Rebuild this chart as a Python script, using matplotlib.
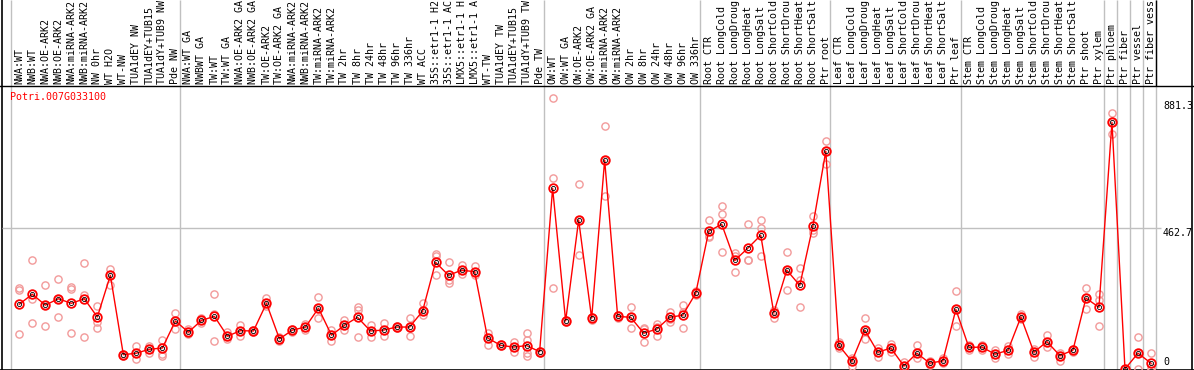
import numpy as np
import matplotlib
matplotlib.use('Agg')
import matplotlib.pyplot as plt

# sample names, as cut off in the header
labels = ['NWA:WT', 'NWB:WT', 'NWA:OE-ARK2', 'NWB:OE-ARK2', 'NWA:miRNA-ARK2', 'NWB:miRNA-ARK2',
          'NW 0hr', 'WT H2O', 'WT-NW', 'TUA1dEY NW', 'TUA1dEY+TUB15', 'TUA1dY+TUB9 NW', 'Pde NW',
          'NWA:WT GA', 'NWBWT GA', 'TW:WT', 'TW:WT GA', 'NWA:OE-ARK2 GA', 'NWB:OE-ARK2 GA',
          'TW:OE-ARK2', 'TW:OE-ARK2 GA', 'NWA:miRNA-ARK2', 'NWB:miRNA-ARK2', 'TW:miRNA-ARK2',
          'TW:miRNA-ARK2', 'TW 2hr', 'TW 8hr', 'TW 24hr', 'TW 48hr', 'TW 96hr', 'TW 336hr',
          'WT ACC', '35S::etr1-1 H2', '35S::etr1-1 AC', 'LMX5::etr1-1 H', 'LMX5::etr1-1 A',
          'WT-TW', 'TUA1dEY TW', 'TUA1dEY+TUB15', 'TUA1dY+TUB9 TW', 'Pde TW',
          'OW:WT', 'OW:WT GA', 'OW:OE-ARK2', 'OW:OE-ARK2 GA', 'OW:miRNA-ARK2', 'OW:miRNA-ARK2',
          'OW 2hr', 'OW 8hr', 'OW 24hr', 'OW 48hr', 'OW 96hr', 'OW 336hr',
          'Root CTR', 'Root LongCold', 'Root LongDroug', 'Root LongHeat', 'Root LongSalt',
          'Root ShortCold', 'Root ShortDrou', 'Root ShortHeat', 'Root ShortSalt', 'Ptr root',
          'Leaf CTR', 'Leaf LongCold', 'Leaf LongDroug', 'Leaf LongHeat', 'Leaf LongSalt',
          'Leaf ShortCold', 'Leaf ShortDrou', 'Leaf ShortHeat', 'Leaf ShortSalt', 'Ptr leaf',
          'Stem CTR', 'Stem LongCold', 'Stem LongDroug', 'Stem LongHeat', 'Stem LongSalt',
          'Stem ShortCold', 'Stem ShortDrou', 'Stem ShortHeat', 'Stem ShortSalt', 'Ptr shoot',
          'Ptr xylem', 'Ptr phloem', 'Ptr fiber', 'Ptr vessel', 'Ptr fiber vess']

group_sizes = [13, 28, 12, 10, 10, 11, 1, 1, 1, 1]

means = [213, 246, 210, 231, 216, 231, 171, 308, 47, 52, 65, 69, 158,
         121, 160, 173, 108, 126, 125, 216, 99, 128, 138, 200, 111, 144, 170, 125, 128,
         138, 138, 190, 351, 308, 325, 320, 102, 78, 72, 77, 57,
         594, 158, 490, 167, 687, 173, 170, 118, 131, 170, 177, 249,
         453, 476, 357, 397, 440, 185, 325, 275, 469, 716,
         78, 25, 128, 55, 69, 10, 52, 19, 27, 196,
         71, 72, 49, 61, 171, 55, 90, 44, 62, 233, 203,
         811, 0, 52, 19]

replicates = [(267, 260, 114), (358, 230, 151), (276, 210, 140), (296, 231, 170), (269, 262, 117),
              (349, 244, 105), (206, 154, 134), (328, 308, 275), (50, 45, 44), (76, 52, 32),
              (77, 65, 53), (95, 48, 44), (183, 158, 130),
              (133, 121, 114), (168, 160, 152), (247, 180, 91), (122, 108, 98), (145, 126, 110),
              (128, 125, 122), (232, 216, 206), (104, 99, 93), (133, 128, 123), (149, 138, 127),
              (236, 200, 167), (128, 111, 93), (161, 144, 127), (205, 194, 106), (145, 125, 106),
              (151, 128, 108), (142, 138, 134), (167, 138, 107), (216, 190, 177), (377, 370, 308),
              (351, 293, 282), (343, 325, 313), (339, 320, 308), (118, 102, 79), (82, 78, 75),
              (88, 72, 55), (118, 95, 54, 44), (60, 57, 54),
              (890, 629, 265), (162, 158, 154), (607, 490, 375), (172, 167, 160), (799, 687, 569),
              (178, 173, 168), (205, 170, 136), (134, 131, 88), (147, 139, 107), (189, 166, 155),
              (210, 186, 134), (258, 249, 242),
              (489, 437, 433), (535, 509, 384), (380, 371, 320), (476, 357, 357), (489, 465, 372),
              (195, 185, 167), (384, 325, 260), (331, 293, 203), (503, 457, 447), (750, 716, 674),
              (88, 78, 68), (36, 25, 10), (167, 128, 98), (70, 55, 40), (82, 69, 57),
              (23, 10, 2), (79, 52, 35), (27, 19, 14), (35, 27, 20), (257, 196, 141),
              (80, 71, 62), (80, 72, 62), (62, 49, 36), (76, 61, 50), (182, 171, 165),
              (67, 55, 40), (112, 90, 73), (52, 44, 27), (67, 62, 57), (265, 233, 197),
              (247, 227, 140),
              (841, 811, 773), (0, 0, 0), (104, 52, 0), (52, 5, 0)]

gene = 'Potri.007G033100'
ytick_vals = [881.3, 462.7, 0]

W, H = 1194, 370
mono = 'DejaVu Sans Mono'
fsize = 7.2
grey = '#c0c0c0'

fig = plt.figure(figsize=(W / 100, H / 100), dpi=100)

# pixel layout: first sample at x=19.3, 13 px per sample
px0, step = 19.3, 13.008
xlim = (-px0 / step, (W - px0) / step)
def xpix(p):
    return (p - px0) / step

# background axes in pixel units (y down) for header, frame and separators
bg = fig.add_axes([0, 0, 1, 1], zorder=0)
bg.set_xlim(xlim)
bg.set_ylim(H, 0)
bg.axis('off')

seps = np.cumsum([0] + group_sizes) - 0.64
bg.vlines(seps, 0, 369, color=grey, lw=1)
bg.vlines(seps[-1], 0, 85.5, color='black', lw=1)
bg.axhline(85.5, color='black', lw=1)
bg.axhline(369.5, color='black', lw=1.2)
bg.vlines([xpix(1.5), xpix(1192)], 0, H, color='black', lw=1.2)

for i, lab in enumerate(labels):
    bg.text(i, 84, lab, rotation=90, ha='center', va='bottom',
            family=mono, fontsize=fsize, color='black')

# data axes: value 0 at y=369, 3.2886 units per pixel
ax = fig.add_axes([0, 1 / H, 1, 282 / H], zorder=1)
ax.patch.set_alpha(0)
ax.set_xlim(xlim)
ax.set_ylim(0, 282 * 3.2886)
ax.axis('off')

ax.hlines(462.7, xpix(2), xpix(1161), color=grey, lw=1, zorder=0)

for i, reps in enumerate(replicates):
    ax.plot([i] * len(reps), reps, 'o', ms=5.2, mfc='none', mec='#f29a9a', mew=1.0, zorder=2)

x = np.arange(len(means))
ax.plot(x, means, color='red', lw=1, zorder=3)
ax.plot(x, means, 'o', ms=6.2, mfc='none', mec='red', mew=1.3, zorder=4)
ax.plot(x, means, 'o', ms=3.0, mfc='none', mec='black', mew=0.6, zorder=5)

for v in ytick_vals:
    if v > 0:
        ax.text(xpix(1163), v, f'{v}', ha='left', va='top', family=mono, fontsize=fsize)
    else:
        ax.text(xpix(1163), 6, '0', ha='left', va='bottom', family=mono, fontsize=fsize)

fig.text(10 / W, 1 - 92 / H, gene, color='red', ha='left', va='top',
         family=mono, fontsize=fsize)

fig.savefig('out.png', dpi=100)
